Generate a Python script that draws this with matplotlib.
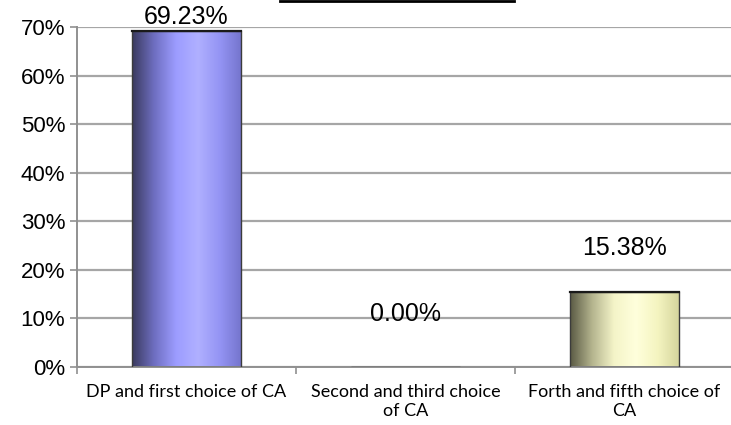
"""Share of choices bar chart."""

import matplotlib

matplotlib.use("Agg")
import matplotlib.pyplot as plt
import numpy as np
from matplotlib.colors import LinearSegmentedColormap
from matplotlib.lines import Line2D
from matplotlib.ticker import PercentFormatter

categories = ["DP and first choice of CA", "Second and third choice\nof CA", "Forth and fifth choice of\nCA"]
values = [0.6923, 0.0, 0.1538]
value_labels = ["69.23%", "0.00%", "15.38%"]
y_ticks = [0.0, 0.1, 0.2, 0.3, 0.4, 0.5, 0.6, 0.7]

# label offsets above bar tops (points), the source has them hand placed
label_offsets = [10, 38, 32]
gradients = [
    ["#3a3a5e", "#6e6ec0", "#9c9cff", "#b0b0ff", "#9494f4", "#7474cc"],
    ["#3a3a5e", "#6e6ec0", "#9c9cff", "#b0b0ff", "#9494f4", "#7474cc"],
    ["#5a5a44", "#b4b48e", "#f4f4c8", "#ffffdc", "#f4f4c0", "#d4d49c"],
]

fig = plt.figure(figsize=(7.31, 4.25), dpi=100)
ax = fig.add_axes([77 / 731, 58 / 425, 657 / 731, 340 / 425])

x = np.arange(len(categories))
bars = ax.bar(x, values, width=0.5, edgecolor="#3c3c3c", linewidth=1.0, zorder=3)

ramp = np.linspace(0, 1, 256).reshape(1, -1)
for bar, colors in zip(bars, gradients):
    bar.set_facecolor("none")
    cmap = LinearSegmentedColormap.from_list("bar", colors)
    x0, y0 = bar.get_x(), bar.get_y()
    w, h = bar.get_width(), bar.get_height()
    if h <= 0:
        continue
    img = ax.imshow(ramp, cmap=cmap, aspect="auto", extent=(x0, x0 + w, y0, y0 + h), zorder=2)
    img.set_clip_path(bar)
    # darker top edge
    ax.plot([x0, x0 + w], [y0 + h, y0 + h], color="#1a1a1a", linewidth=1.6, zorder=4)

for xi, v, lab, off in zip(x, values, value_labels, label_offsets):
    ax.annotate(lab, (xi, v), xytext=(0, off), textcoords="offset points",
                ha="center", va="center", fontsize=18, family="Liberation Sans", zorder=5)

ax.set_xlim(-0.5, 2.5)
ax.set_ylim(0, 0.7)
ax.set_yticks(y_ticks)
ax.yaxis.set_major_formatter(PercentFormatter(1.0, decimals=0))
ax.set_xticks(x)
ax.set_xticklabels(categories, fontsize=13, family="Lato", linespacing=1.25)
ax.set_xticks([-0.5, 0.5, 1.5, 2.5], minor=True)
ax.tick_params(axis="x", which="major", length=0, pad=12)
ax.tick_params(axis="x", which="minor", length=5, color="#909090", width=1.2)
ax.tick_params(axis="y", length=5, color="#909090", width=1.2, labelsize=16)
for t in ax.get_yticklabels():
    t.set_family("Liberation Sans")

ax.grid(axis="y", color="#a6a6a6", linewidth=1.6, zorder=1)
ax.set_axisbelow(True)
for side in ["top", "right"]:
    ax.spines[side].set_visible(False)
for side in ["left", "bottom"]:
    ax.spines[side].set_color("#909090")
    ax.spines[side].set_linewidth(1.4)

# clipped title underline at the very top
fig.add_artist(Line2D([280 / 731, 514 / 731], [424 / 425, 424 / 425], color="black", linewidth=2))

fig.savefig("out.png", dpi=100)
